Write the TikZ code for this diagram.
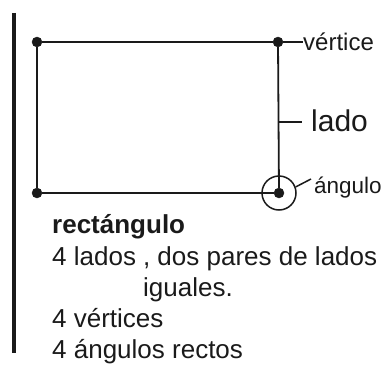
\documentclass[tikz,border=0pt]{standalone}
\usepackage{fontspec}
\setmainfont{Liberation Sans}
\usetikzlibrary{positioning}
\definecolor{ink}{HTML}{1A1A1A}
\tikzstyle{vx}=[draw=ink,circle,fill=ink,minimum size=10pt, inner sep=0pt]
\tikzstyle{lb}=[text=ink,inner sep=0pt,anchor=base west,font=\fontsize{26}{30}\selectfont]

\begin{document}
\begin{tikzpicture}[x=1pt,y=-1pt]
      \useasboundingbox (0,0) rectangle (390,369);
      \draw [ink,line width=3.5pt] (14,13) -- (14,353);
      \node [vx] (tl) at (37,42) {};
      \node [vx] (tr) at (278,42) {};
      \node [vx] (bl) at (37,193) {};
      \node [vx] (br) at (279,193) {};
      \draw [ink,line width=1.8pt] (tl) -- (tr) -- (br) -- (bl) -- (tl);
      \node [draw=ink,line width=1.5pt,circle,minimum size=34pt,inner sep=0pt] (circ) at (br) {};
      \coordinate (side) at (278,122);
      \node [lb,font=\fontsize{24}{30}\selectfont] (vert) at (303,50) {vértice};
      \node [lb,font=\fontsize{30}{30}\selectfont] (lado) at (311,131) {lado};
      \node [lb,font=\fontsize{22.5}{30}\selectfont] (ang) at (314,193) {ángulo};
      \draw [ink,line width=1.5pt] (tr) -- (vert.west |- tr);
      \draw [ink,line width=1.5pt] (side) -- (302,122);
      \draw [ink,line width=1.5pt] (circ.20) -- (311,179);
      \node [lb,font=\bfseries\fontsize{26}{30}\selectfont] (rect) at (52,233) {rectángulo};
      \node [lb] (l1) at (52,265) {4 lados\hspace{7pt}, dos pares de lados};
      \node [lb] (l2) at (143,296) {iguales.};
      \node [lb] (l3) at (52,327) {4 vértices};
      \node [lb] (l4) at (52,358) {4 ángulos rectos};
    \end{tikzpicture}
\end{document}
